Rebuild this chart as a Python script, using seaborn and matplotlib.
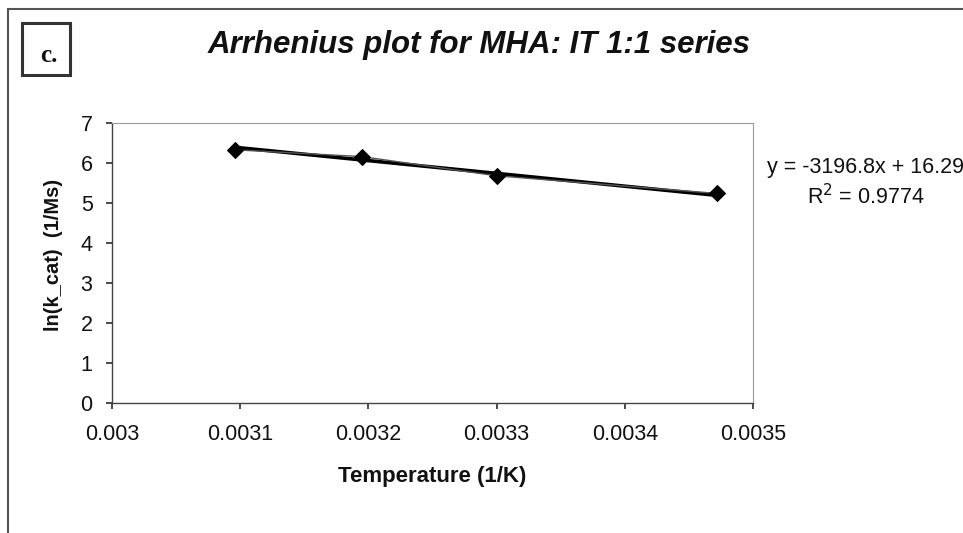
import matplotlib
matplotlib.use("Agg")
import matplotlib.pyplot as plt
import seaborn as sns
import numpy as np
import pandas as pd
from matplotlib.patches import Rectangle

# data
inv_temp = [0.003096, 0.003195, 0.003300, 0.003472]
ln_kcat = [6.33, 6.16, 5.68, 5.24]
slope = -3196.8
intercept = 16.29
r2 = 0.9774
xticks = [0.003, 0.0031, 0.0032, 0.0033, 0.0034, 0.0035]
xtick_labels = ["0.003", "0.0031", "0.0032", "0.0033", "0.0034", "0.0035"]
yticks = [0, 1, 2, 3, 4, 5, 6, 7]

sns.set_theme(style="white")
plt.rcParams['font.family'] = ['Liberation Sans', 'DejaVu Sans']

fig = plt.figure(figsize=(9.63, 5.33), dpi=100)
ax = fig.add_axes([0.1163, 0.2439, 0.6656, 0.5253])

df = pd.DataFrame({"x": inv_temp, "y": ln_kcat})
trend_x = [min(inv_temp), max(inv_temp)]
trend = pd.DataFrame({"x": trend_x, "y": [slope * v + intercept for v in trend_x]})

sns.lineplot(data=df, x="x", y="y", ax=ax, color="#555555", linewidth=1.0,
             marker="D", markersize=8.5, markerfacecolor="black",
             markeredgecolor="black", zorder=3)
sns.lineplot(data=trend, x="x", y="y", ax=ax, color="black", linewidth=2.6, zorder=2)

ax.set_xlim(0.003, 0.0035)
ax.set_ylim(0, 7)
ax.set_xticks(xticks)
ax.set_xticklabels(xtick_labels)
ax.set_yticks(yticks)
ax.tick_params(axis="both", labelsize=15.5, length=4, direction="out",
               bottom=True, left=True, color="#333333", labelcolor="#111111")
ax.tick_params(axis="x", pad=11)
ax.tick_params(axis="y", pad=10)
for side in ["left", "bottom"]:
    ax.spines[side].set_color("#444444")
    ax.spines[side].set_linewidth(1.0)
for side in ["top", "right"]:
    ax.spines[side].set_color("#999999")
    ax.spines[side].set_linewidth(0.8)
    ax.spines[side].set_linestyle((0, (1, 1)))
ax.set_xlabel("Temperature (1/K)", fontsize=16, fontweight="bold", labelpad=15,
              color="#111111")
ax.set_ylabel("ln(k_cat)  (1/Ms)", fontsize=14.5, fontweight="bold",
              color="#111111")
ax.yaxis.set_label_coords(-0.076, 0.53)

fig.text(0.498, 0.916, "Arrhenius plot for MHA: IT 1:1 series", ha="center", va="center",
         fontsize=22.5, fontweight="bold", fontstyle="italic", color="#111111")

fig.text(0.899, 0.685, "y = -3196.8x + 16.29", ha="center", va="center", fontsize=15.5,
         color="#111111")
fig.text(0.899, 0.631, "R$^2$ = %.4f" % r2, ha="center", va="center", fontsize=15.5,
         color="#111111")

# outer frame and panel label box
fig.patches.append(Rectangle((8/963, -0.1), 1.2, 1 - 9/533 + 0.1, transform=fig.transFigure,
                             fill=False, edgecolor="#555555", linewidth=1.5))
fig.patches.append(Rectangle((22/963, 1 - 75/533), 48/963, 52/533, transform=fig.transFigure,
                             fill=False, edgecolor="#333333", linewidth=2.2))
fig.text(49/963, 1 - 56/533, "c.", ha="center", va="center", fontsize=18,
         fontweight="bold", family=["Liberation Serif", "DejaVu Serif"], color="#111111")

fig.savefig("out.png", dpi=100)
